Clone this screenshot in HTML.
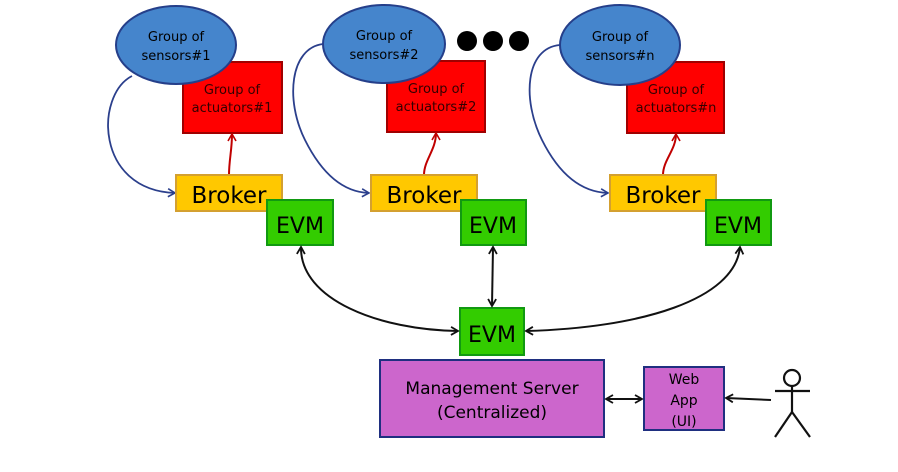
<!DOCTYPE html>
<html><head><meta charset="utf-8"><style>
html,body{margin:0;padding:0;background:#fff;width:898px;height:472px;overflow:hidden}
svg text{font-family:"DejaVu Sans","Liberation Sans",sans-serif}
</style></head><body>
<svg width="898" height="472" viewBox="0 0 898 472" xmlns="http://www.w3.org/2000/svg">
<defs>
<marker id="ab" markerWidth="10" markerHeight="10" refX="8" refY="5" orient="auto" markerUnits="userSpaceOnUse"><path d="M1,1 L8,5 L1,9" fill="none" stroke="#2b3f8c" stroke-width="1.6"/></marker>
<marker id="ar" markerWidth="10" markerHeight="10" refX="8" refY="5" orient="auto" markerUnits="userSpaceOnUse"><path d="M1,1 L8,5 L1,9" fill="none" stroke="#c00000" stroke-width="1.6"/></marker>
<marker id="ak" markerWidth="10" markerHeight="10" refX="8" refY="5" orient="auto-start-reverse" markerUnits="userSpaceOnUse"><path d="M1,1 L8,5 L1,9" fill="none" stroke="#111" stroke-width="1.8"/></marker>
</defs>
<!-- group 1 -->
<rect x="183" y="62" width="99" height="71" fill="#ff0000" stroke="#a00000" stroke-width="2"/>
<text x="232" y="94" font-size="13" text-anchor="middle" fill="#300">Group of</text>
<text x="232" y="112" font-size="13" text-anchor="middle" fill="#300">actuators#1</text>
<ellipse cx="176" cy="45" rx="60" ry="39" fill="#4585cc" stroke="#253f8a" stroke-width="2"/>
<text x="176" y="41" font-size="13" text-anchor="middle">Group of</text>
<text x="176" y="60" font-size="13" text-anchor="middle">sensors#1</text>
<path d="M132,76 C95,95 95,190 175,193" fill="none" stroke="#2b3f8c" stroke-width="1.8" marker-end="url(#ab)"/>
<path d="M229,175 C229,160 232,150 232,134" fill="none" stroke="#c00000" stroke-width="2" marker-end="url(#ar)"/>
<rect x="176" y="175" width="106" height="36" fill="#ffc800" stroke="#d4a030" stroke-width="2"/>
<text x="229" y="203" font-size="23" text-anchor="middle">Broker</text>
<rect x="267" y="200" width="66" height="45" fill="#33cc00" stroke="#119911" stroke-width="2"/>
<text x="300" y="233" font-size="22" text-anchor="middle">EVM</text>
<!-- group 2 -->
<rect x="387" y="61" width="98" height="71" fill="#ff0000" stroke="#a00000" stroke-width="2"/>
<text x="436" y="93" font-size="13" text-anchor="middle" fill="#300">Group of</text>
<text x="436" y="111" font-size="13" text-anchor="middle" fill="#300">actuators#2</text>
<ellipse cx="384" cy="44" rx="61" ry="39" fill="#4585cc" stroke="#253f8a" stroke-width="2"/>
<text x="384" y="40" font-size="13" text-anchor="middle">Group of</text>
<text x="384" y="59" font-size="13" text-anchor="middle">sensors#2</text>
<path d="M323,44 C290,48 285,100 305,140 C320,170 340,192 369,193" fill="none" stroke="#2b3f8c" stroke-width="1.8" marker-end="url(#ab)"/>
<path d="M424,175 C424,160 436,150 436,133" fill="none" stroke="#c00000" stroke-width="2" marker-end="url(#ar)"/>
<rect x="371" y="175" width="106" height="36" fill="#ffc800" stroke="#d4a030" stroke-width="2"/>
<text x="424" y="203" font-size="23" text-anchor="middle">Broker</text>
<rect x="461" y="200" width="65" height="45" fill="#33cc00" stroke="#119911" stroke-width="2"/>
<text x="493" y="233" font-size="22" text-anchor="middle">EVM</text>
<!-- dots -->
<circle cx="467" cy="41" r="10" fill="#000"/>
<circle cx="493" cy="41" r="10" fill="#000"/>
<circle cx="519" cy="41" r="10" fill="#000"/>
<!-- group n -->
<rect x="627" y="62" width="97" height="71" fill="#ff0000" stroke="#a00000" stroke-width="2"/>
<text x="676" y="94" font-size="13" text-anchor="middle" fill="#300">Group of</text>
<text x="676" y="112" font-size="13" text-anchor="middle" fill="#300">actuators#n</text>
<ellipse cx="620" cy="45" rx="60" ry="40" fill="#4585cc" stroke="#253f8a" stroke-width="2"/>
<text x="620" y="41" font-size="13" text-anchor="middle">Group of</text>
<text x="620" y="60" font-size="13" text-anchor="middle">sensors#n</text>
<path d="M560,45 C525,48 522,100 542,140 C557,170 578,192 608,193" fill="none" stroke="#2b3f8c" stroke-width="1.8" marker-end="url(#ab)"/>
<path d="M663,175 C663,160 676,150 676,134" fill="none" stroke="#c00000" stroke-width="2" marker-end="url(#ar)"/>
<rect x="610" y="175" width="106" height="36" fill="#ffc800" stroke="#d4a030" stroke-width="2"/>
<text x="663" y="203" font-size="23" text-anchor="middle">Broker</text>
<rect x="706" y="200" width="65" height="45" fill="#33cc00" stroke="#119911" stroke-width="2"/>
<text x="738" y="233" font-size="22" text-anchor="middle">EVM</text>
<!-- central -->
<rect x="460" y="308" width="64" height="47" fill="#33cc00" stroke="#119911" stroke-width="2"/>
<text x="492" y="342" font-size="22" text-anchor="middle">EVM</text>
<path d="M301,247 C300,300 380,330 458,331" fill="none" stroke="#111" stroke-width="2" marker-start="url(#ak)" marker-end="url(#ak)"/>
<path d="M493,247 L492,306" fill="none" stroke="#111" stroke-width="2" marker-start="url(#ak)" marker-end="url(#ak)"/>
<path d="M740,247 C735,300 640,328 526,331" fill="none" stroke="#111" stroke-width="2" marker-start="url(#ak)" marker-end="url(#ak)"/>
<rect x="380" y="360" width="224" height="77" fill="#cc66cc" stroke="#1f2f80" stroke-width="2"/>
<text x="492" y="394" font-size="17" text-anchor="middle">Management Server</text>
<text x="492" y="418" font-size="17" text-anchor="middle">(Centralized)</text>
<rect x="644" y="367" width="80" height="63" fill="#cc66cc" stroke="#1f2f80" stroke-width="2"/>
<text x="684" y="384" font-size="14" text-anchor="middle">Web</text>
<text x="684" y="405" font-size="14" text-anchor="middle">App</text>
<text x="684" y="426" font-size="14" text-anchor="middle">(UI)</text>
<path d="M606,399 L642,399" fill="none" stroke="#111" stroke-width="2" marker-start="url(#ak)" marker-end="url(#ak)"/>
<path d="M771,400 L726,398" fill="none" stroke="#111" stroke-width="2" marker-end="url(#ak)"/>
<g stroke="#111" stroke-width="2.2" fill="none">
<circle cx="792" cy="378" r="8" fill="#fff"/>
<line x1="792" y1="386" x2="792" y2="412"/>
<line x1="775" y1="391" x2="810" y2="391"/>
<line x1="792" y1="412" x2="775" y2="437"/>
<line x1="792" y1="412" x2="810" y2="437"/>
</g>
</svg>
</body></html>
